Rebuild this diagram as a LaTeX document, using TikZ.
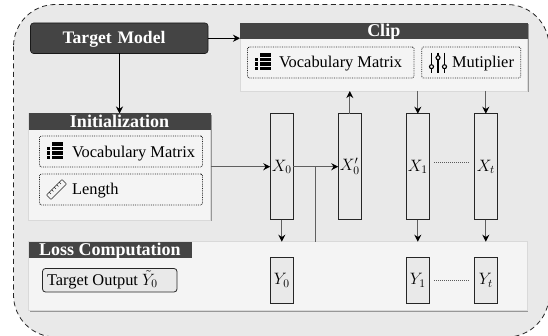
\documentclass[tikz,border=0pt]{standalone}
\usepackage{fix-cm}
\usepackage{fontspec}
\setmainfont{Liberation Serif}
\usetikzlibrary{arrows.meta,shadows,calc}
\definecolor{outerfill}{HTML}{E9E9E9}
\definecolor{panelfill}{HTML}{F4F4F4}
\definecolor{darkfill}{HTML}{444444}
\definecolor{linegray}{HTML}{5F5F5F}
\tikzset{
  x=1pt,y=-1pt,
  every node/.style={inner sep=0pt,outer sep=0pt},
  panel/.style={anchor=north west,fill=panelfill,draw=black!15,line width=.6pt,
    drop shadow={shadow xshift=1pt,shadow yshift=-1.5pt,opacity=.35,fill=black}},
  header/.style={anchor=north west,fill=darkfill,text=white,font=\fontsize{18}{18}\selectfont\bfseries,
    minimum height=16.5pt,text height=13.8pt,text depth=2.7pt},
  item/.style={anchor=north west,draw=black!85,densely dotted,line width=.8pt,rounded corners=1.5pt,minimum height=31pt},
  label/.style={anchor=base west,font=\fontsize{16.4}{18}\selectfont,text=black},
  bar/.style={anchor=north west,draw=black!85,line width=1pt,fill=outerfill,minimum width=23pt,
    font=\fontsize{16.5}{18}\selectfont},
  flow/.style={draw=black,line width=.9pt,-{Stealth[length=7pt,width=7pt]}},
  grayflow/.style={draw=linegray,line width=1.2pt,-{Stealth[length=7pt,width=7pt,color=black]}},
  graylink/.style={draw=linegray,line width=1.2pt},
  dots/.style={draw=black!65,line width=1pt,dash pattern=on 1pt off 1pt},
  pics/tableicon/.style={code={
    \fill[black] (5.5,0) rectangle (16.5,3.4);
    \foreach \r in {4.6,9,13.4}{
      \fill[black] (0.5,\r) rectangle (4.3,\r+3.4);
      \fill[black] (5.5,\r) rectangle (16.5,\r+3.4);
    }
  }},
  pics/rulericon/.style={code={
    \begin{scope}[rotate=45]
      \draw[black!85,line width=.6pt,rounded corners=.5pt] (-11,-3.2) rectangle (11,3.2);
      \foreach \t in {-7,-3.5,0,3.5,7}{\draw[black!85,line width=.5pt] (\t,-3.2) -- (\t,-.8);}
    \end{scope}
  }},
  pics/slidericon/.style={code={
    \draw[black,line width=1.3pt] (0,0) -- (0,20) (6.5,0) -- (6.5,20) (13,0) -- (13,20);
    \draw[black,line width=1.1pt,fill=panelfill] (0,14) circle (2) (6.5,5) circle (2) (13,14) circle (2);
  }},
}
\begin{document}
\begin{tikzpicture}
\useasboundingbox (0,0) rectangle (548,336);
% outer frame, its right and bottom edges fall just outside the picture
\begin{scope}
\clip (0,0) rectangle (548,336);
\draw[fill=outerfill,draw=black!85,line width=.8pt,dash pattern=on 5pt off 3.5pt,rounded corners=42pt]
  (13.5,4.5) rectangle (549,337);
\end{scope}

% panels
\node[panel,minimum width=287.5pt,minimum height=68pt] (clip) at (240,23) {};
\node[panel,minimum width=182pt,minimum height=106.5pt] (init) at (28.5,113.5) {};
\node[panel,minimum width=498.5pt,minimum height=68.5pt] (loss) at (28.5,241.7) {};

% headers
\node[header,minimum width=287.5pt] (cliphead) at (240,23) {Clip};
\node[header,minimum width=182pt] (inithead) at (28.5,113.5) {Initialization};
\node[header,minimum width=163pt] (losshead) at (28.5,241.7) {Loss Computation};

% target model
\node[anchor=north west,fill=darkfill,draw=black!90,line width=.6pt,rounded corners=3pt,
  minimum width=177.5pt,minimum height=30.5pt,text=white,text height=13pt,text depth=1.5pt,
  inner xsep=32pt,text width=113.5pt,align=left,
  font=\fontsize{17.6}{18}\selectfont\bfseries] (tm) at (30.5,23) {Target Model};

% items in Clip
\node[item,minimum width=166.5pt] (cv) at (247.5,47) {};
\node[item,minimum width=99pt] (cm) at (421.7,47) {};
\pic at (254,53.5) {tableicon};
\node[label] (cvt) at (279,68) {Vocabulary Matrix};
\pic at (431.5,52.7) {slidericon};
\node[label] (cmt) at (452,68) {Mutiplier};

% items in Initialization
\node[item,minimum width=163pt] (iv) at (39.5,136) {};
\node[item,minimum width=163pt] (il) at (39.5,174) {};
\pic at (46,142.5) {tableicon};
\node[label] (ivt) at (72,157.3) {Vocabulary Matrix};
\pic at (56.5,189.5) {rulericon};
\node[label] (ilt) at (72,194.7) {Length};

% target output
\node[anchor=north west,draw=black!85,fill=outerfill,line width=.8pt,rounded corners=3pt,
  minimum width=134.5pt,minimum height=23.5pt] (to) at (42.5,268.5) {};
\node[label] (tot) at (47,285.3) {Target Output $\tilde{Y}_0$};

% bars
\node[bar,minimum height=106pt] (x0) at (270.3,113.7) {$X_0$};
\node[bar,minimum height=106pt] (xp) at (338.3,113.7) {$X_0'$};
\node[bar,minimum height=106pt] (x1) at (406.3,113.7) {$X_1$};
\node[bar,minimum height=106pt] (xt) at (474.3,113.7) {$X_t$};
\node[bar,minimum height=45.7pt] (y0) at (270.3,257.3) {$Y_0$};
\node[bar,minimum height=45.7pt] (y1) at (406.3,257.3) {$Y_1$};
\node[bar,minimum height=45.7pt] (yt) at (474.3,257.3) {$Y_t$};

% connectors
\draw[flow] (tm.east) -- (tm.east -| clip.west);
\draw[flow] (tm.south -| inithead.north) -- (inithead.north);
\draw[grayflow] (init.east |- x0.west) -- (x0.west);
\draw[grayflow] (x0.east) -- (xp.west);
\coordinate (branch) at ($(x0.east)!.5!(xp.west)$);
\draw[graylink] (branch) -- (branch |- loss.north);
\draw[grayflow] (x0.south) -- (x0.south |- loss.north);
\draw[grayflow] (xp.north) -- (xp.north |- clip.south);
\draw[grayflow] (x1.north |- clip.south) -- (x1.north);
\draw[grayflow] (xt.north |- clip.south) -- (xt.north);
\draw[grayflow] (x1.south) -- (x1.south |- loss.north);
\draw[grayflow] (xt.south) -- (xt.south |- loss.north);
\coordinate (xa) at (434,162.7);
\coordinate (xb) at (469,162.7);
\coordinate (ya) at (434,280.7);
\coordinate (yb) at (469,280.7);
\draw[dots] (xa) -- (xb);
\draw[dots] (ya) -- (yb);
\end{tikzpicture}
\end{document}
